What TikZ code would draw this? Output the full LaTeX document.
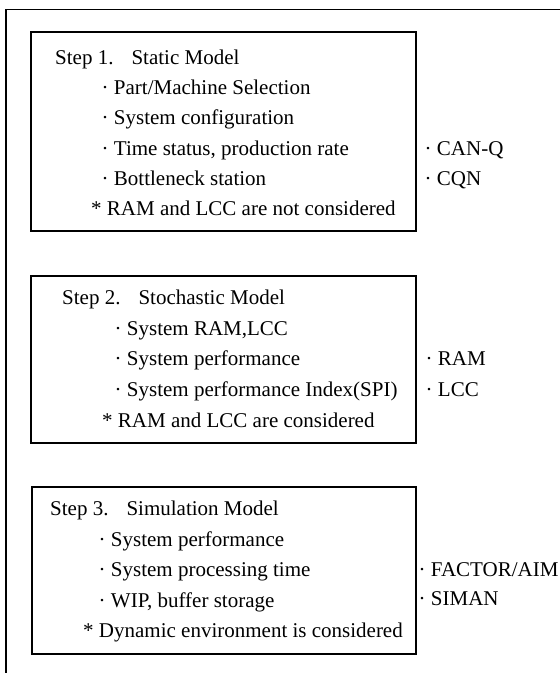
\documentclass[tikz,border=0pt]{standalone}
\usepackage{fontspec}
\setmainfont{Liberation Serif}
\begin{document}
\begin{tikzpicture}[x=1pt,y=-1pt,
  frame/.style={draw=black,line width=1.1pt},
  stepbox/.style={draw=black,line width=1.1pt,rectangle,inner sep=0pt,fill=none},
  txt/.style={anchor=base west,inner sep=0pt,font=\fontsize{21}{25}\selectfont,text=black}]
\useasboundingbox (0,0) rectangle (560,673);
% outer frame
\coordinate (ftl) at (6,9.5);
\coordinate (ftr) at (560,9.5);
\coordinate (fbl) at (6,673);
\draw[frame] (ftr) -- (ftl) -- (fbl);
% boxes
\node[stepbox,minimum width=385pt,minimum height=199pt] (box1) at (223.5,131.5) {};
\node[stepbox,minimum width=385pt,minimum height=167pt] (box2) at (223.5,359.5) {};
\node[stepbox,minimum width=384pt,minimum height=167pt] (box3) at (224,570.5) {};
% box 1
\node[txt] (s1t) at (55,64) {Step 1.\hspace{18pt}Static Model};
\node[txt] (s1a) at (101.5,94) {· Part/Machine Selection};
\node[txt] (s1b) at (101.5,124) {· System configuration};
\node[txt] (s1c) at (101.5,155) {· Time status, production rate};
\node[txt] (s1d) at (101.5,185) {· Bottleneck station};
\node[txt] (s1e) at (91,215) {* RAM and LCC are not considered};
\node[txt] (r1a) at (424.5,155) {· CAN-Q};
\node[txt] (r1b) at (424.5,185) {· CQN};
% box 2
\node[txt] (s2t) at (62,304) {Step 2.\hspace{18pt}Stochastic Model};
\node[txt] (s2a) at (114.5,335) {· System RAM,LCC};
\node[txt] (s2b) at (114.5,365) {· System performance};
\node[txt] (s2c) at (114.5,396) {· System performance Index(SPI)};
\node[txt] (s2d) at (102,427) {* RAM and LCC are considered};
\node[txt] (r2a) at (425.5,365) {· RAM};
\node[txt] (r2b) at (425.5,396) {· LCC};
% box 3
\node[txt] (s3t) at (50,515) {Step 3.\hspace{18pt}Simulation Model};
\node[txt] (s3a) at (98.5,546) {· System performance};
\node[txt] (s3b) at (98.5,576) {· System processing time};
\node[txt] (s3c) at (98.5,607) {· WIP, buffer storage};
\node[txt] (s3d) at (83,637) {* Dynamic environment is considered};
\node[txt] (r3a) at (418.5,576) {· FACTOR/AIM};
\node[txt] (r3b) at (418.5,605) {· SIMAN};
\end{tikzpicture}
\end{document}
